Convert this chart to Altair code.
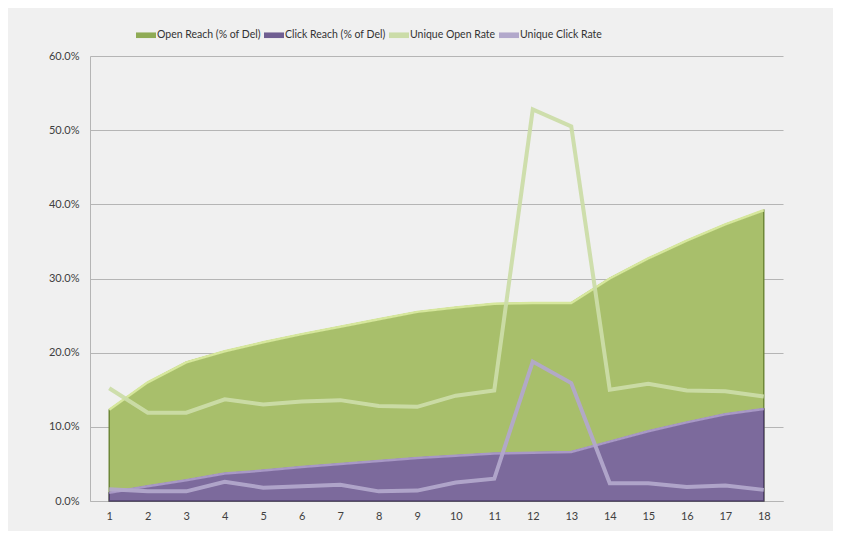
import altair as alt
import pandas as pd

periods = list(range(1, 19))
open_reach = [12.3, 16.0, 18.7, 20.2, 21.4, 22.5, 23.5, 24.5, 25.5, 26.1, 26.6, 26.7, 26.7, 30.0, 32.7, 35.1, 37.3, 39.2]
click_reach = [1.1, 2.0, 2.8, 3.7, 4.1, 4.6, 5.0, 5.4, 5.8, 6.1, 6.4, 6.5, 6.6, 8.0, 9.4, 10.6, 11.7, 12.4]
open_rate = [15.2, 11.9, 11.9, 13.7, 13.0, 13.4, 13.6, 12.8, 12.7, 14.2, 14.9, 52.8, 50.5, 15.0, 15.8, 14.9, 14.8, 14.1]
click_rate = [1.6, 1.3, 1.3, 2.6, 1.8, 2.0, 2.2, 1.3, 1.4, 2.5, 3.0, 18.8, 15.9, 2.4, 2.4, 1.9, 2.1, 1.5]

series_names = ["Open Reach (% of Del)", "Click Reach (% of Del)", "Unique Open Rate", "Unique Click Rate"]
series_values = [open_reach, click_reach, open_rate, click_rate]
legend_colors = ["#8fab55", "#6f5e91", "#cbdca8", "#b2a8cb"]

rows = []
for name, vals in zip(series_names, series_values):
    for p, v in zip(periods, vals):
        rows.append({"period": p, "series": name, "value": v / 100.0})
df = pd.DataFrame(rows)

FONT = "Lato"

color = alt.Color(
    "series:N",
    scale=alt.Scale(domain=series_names, range=legend_colors),
    legend=alt.Legend(
        title=None,
        orient="none",
        legendX=46,
        legendY=-31,
        direction="horizontal",
        symbolType="M-1,-0.28L1,-0.28L1,0.28L-1,0.28Z",
        symbolSize=400,
        symbolStrokeWidth=0,
        symbolOpacity=1,
        labelFont=FONT,
        labelFontSize=10.5,
        labelColor="#333333",
        labelOffset=1,
        columnPadding=3,
    ),
)

x = alt.X(
    "period:O",
    scale=alt.Scale(type="point", padding=0.5),
    axis=alt.Axis(
        title=None, labelAngle=0, ticks=False, domain=True, domainColor="#b5b5b5",
        labelFont=FONT, labelFontSize=11, labelColor="#404040", labelPadding=9,
    ),
)
y = alt.Y(
    "value:Q",
    scale=alt.Scale(domain=[0, 0.6], nice=False),
    axis=alt.Axis(
        title=None, format=".1%", values=[0, 0.1, 0.2, 0.3, 0.4, 0.5, 0.6],
        ticks=False, domain=True, domainColor="#b5b5b5", grid=True,
        gridColor="#b5b5b5", gridWidth=1,
        labelFont=FONT, labelFontSize=11, labelColor="#404040", labelPadding=11,
    ),
)

base = alt.Chart(df).encode(x=x, y=y)

green_area = base.transform_filter(alt.datum.series == series_names[0]).mark_area(
    fill="#a8bf6b", stroke="#6e8838", strokeWidth=1.5, opacity=1
).encode(color=color)
green_top = base.transform_filter(alt.datum.series == series_names[0]).mark_line(
    color="#d6e79c", strokeWidth=2.5
)
purple_area = base.transform_filter(alt.datum.series == series_names[1]).mark_area(
    fill="#7c6a9c", stroke="#4e3f6b", strokeWidth=1.5, opacity=1
).encode(color=color)
purple_top = base.transform_filter(alt.datum.series == series_names[1]).mark_line(
    color="#a898c6", strokeWidth=2.5
)
open_line = base.transform_filter(alt.datum.series == series_names[2]).mark_line(
    strokeWidth=4, opacity=0.95
).encode(color=color)
click_line = base.transform_filter(alt.datum.series == series_names[3]).mark_line(
    strokeWidth=4, opacity=0.95
).encode(color=color)

chart = alt.layer(
    green_area, green_top, purple_area, purple_top, open_line, click_line
).properties(
    width=693,
    height=445,
    autosize=alt.AutoSizeParams(type="none"),
    padding={"left": 82, "top": 48, "right": 50, "bottom": 30},
    background="#f0f0f0",
).configure_view(stroke=None)

chart.save("out.html", embed_options={"renderer": "svg", "actions": False})
